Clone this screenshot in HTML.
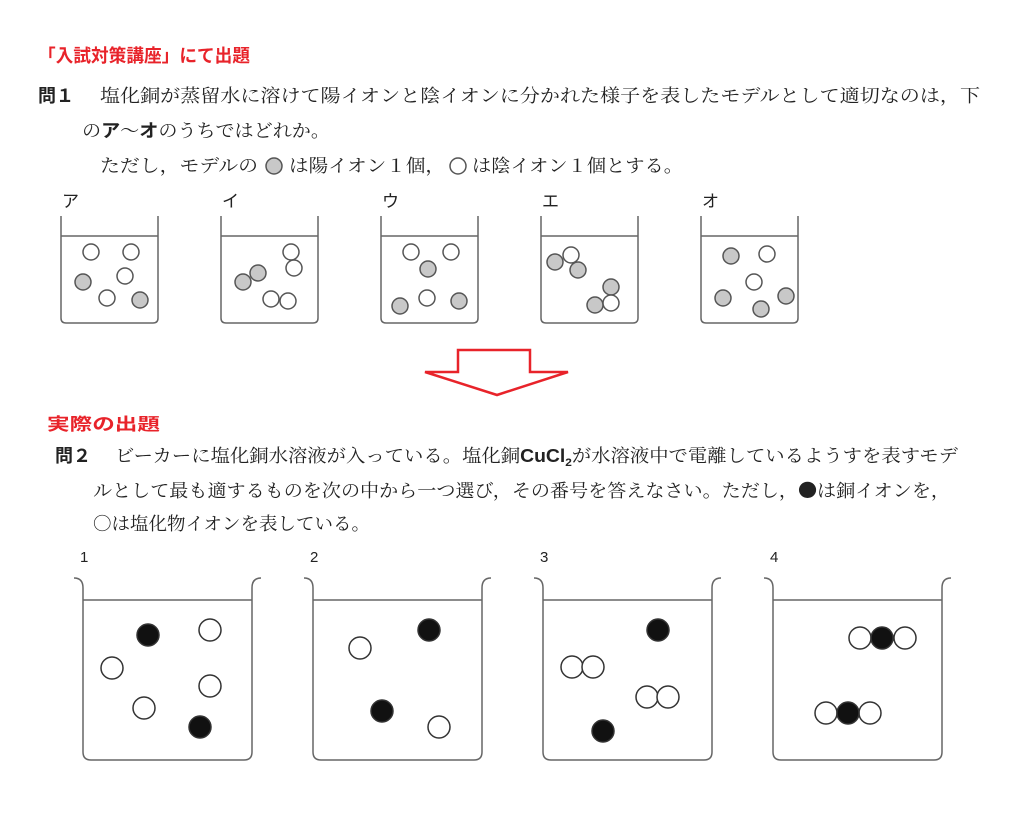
<!DOCTYPE html>
<html><head><meta charset="utf-8"><style>
html,body{margin:0;padding:0;background:#fff;}
svg{display:block;}
.s{font-family:"Liberation Serif","Noto Serif CJK SC",serif;font-size:18px;fill:#222;}
.g{font-family:"Liberation Sans","Noto Sans CJK JP",sans-serif;}
.c{font-family:"Noto Sans CJK JP",sans-serif;}
</style></head><body>
<svg width="1024" height="816" viewBox="0 0 1024 816" xmlns="http://www.w3.org/2000/svg">
<text x="38" y="62" class="g" font-size="18" font-weight="bold" fill="#e8232a" textLength="212" lengthAdjust="spacingAndGlyphs">「入試対策講座」にて出題</text>
<text x="38" y="102" class="g" font-size="18" font-weight="bold" fill="#222">問１</text>
<text x="100" y="102" class="s" textLength="880" lengthAdjust="spacingAndGlyphs">塩化銅が蒸留水に溶けて陽イオンと陰イオンに分かれた様子を表したモデルとして適切なのは，下</text>
<text x="82" y="137" class="s" textLength="248" lengthAdjust="spacingAndGlyphs">の<tspan class="g" font-weight="bold">ア</tspan>〜<tspan class="g" font-weight="bold">オ</tspan>のうちではどれか。</text>
<text x="100" y="172" class="s" textLength="158" lengthAdjust="spacingAndGlyphs">ただし，モデルの</text>
<circle cx="274" cy="166" r="8" fill="#c8c8c8" stroke="#555" stroke-width="1.5"/>
<text x="289" y="172" class="s" textLength="156" lengthAdjust="spacingAndGlyphs">は陽イオン１個，</text>
<circle cx="458" cy="166" r="8" fill="#fff" stroke="#555" stroke-width="1.5"/>
<text x="472" y="172" class="s" textLength="211" lengthAdjust="spacingAndGlyphs">は陰イオン１個とする。</text>

<g class="g" font-size="17" fill="#222">
<text x="62" y="207">ア</text><text x="222" y="207">イ</text><text x="382" y="207">ウ</text><text x="542" y="207">エ</text><text x="702" y="207">オ</text>
</g>
<g fill="none" stroke="#666" stroke-width="1.5">
<path d="M61 216 V318 q0 5 5 5 H153 q5 0 5 -5 V216"/><line x1="61" y1="236" x2="158" y2="236"/>
<path d="M221 216 V318 q0 5 5 5 H313 q5 0 5 -5 V216"/><line x1="221" y1="236" x2="318" y2="236"/>
<path d="M381 216 V318 q0 5 5 5 H473 q5 0 5 -5 V216"/><line x1="381" y1="236" x2="478" y2="236"/>
<path d="M541 216 V318 q0 5 5 5 H633 q5 0 5 -5 V216"/><line x1="541" y1="236" x2="638" y2="236"/>
<path d="M701 216 V318 q0 5 5 5 H793 q5 0 5 -5 V216"/><line x1="701" y1="236" x2="798" y2="236"/>
</g>
<g stroke="#555" stroke-width="1.5">
<g fill="#fff"><circle cx="91" cy="252" r="8"/><circle cx="131" cy="252" r="8"/><circle cx="125" cy="276" r="8"/><circle cx="107" cy="298" r="8"/></g>
<g fill="#c8c8c8"><circle cx="83" cy="282" r="8"/><circle cx="140" cy="300" r="8"/></g>
<g fill="#fff"><circle cx="291" cy="252" r="8"/><circle cx="294" cy="268" r="8"/><circle cx="271" cy="299" r="8"/><circle cx="288" cy="301" r="8"/></g>
<g fill="#c8c8c8"><circle cx="243" cy="282" r="8"/><circle cx="258" cy="273" r="8"/></g>
<g fill="#fff"><circle cx="411" cy="252" r="8"/><circle cx="451" cy="252" r="8"/><circle cx="427" cy="298" r="8"/></g>
<g fill="#c8c8c8"><circle cx="428" cy="269" r="8"/><circle cx="400" cy="306" r="8"/><circle cx="459" cy="301" r="8"/></g>
<circle cx="555" cy="262" r="8" fill="#c8c8c8"/><circle cx="571" cy="255" r="8" fill="#fff"/><circle cx="578" cy="270" r="8" fill="#c8c8c8"/>
<circle cx="611" cy="287" r="8" fill="#c8c8c8"/><circle cx="595" cy="305" r="8" fill="#c8c8c8"/><circle cx="611" cy="303" r="8" fill="#fff"/>
<g fill="#c8c8c8"><circle cx="731" cy="256" r="8"/><circle cx="723" cy="298" r="8"/><circle cx="761" cy="309" r="8"/><circle cx="786" cy="296" r="8"/></g>
<g fill="#fff"><circle cx="767" cy="254" r="8"/><circle cx="754" cy="282" r="8"/></g>
</g>

<polygon points="458,350 530,350 530,372 568,372 497,395 425,372 458,372" fill="#fff" stroke="#e8232a" stroke-width="2.5"/>

<text x="47" y="430" class="g" font-size="17" font-weight="bold" fill="#e8232a" textLength="113" lengthAdjust="spacingAndGlyphs">実際の出題</text>
<text x="55" y="462" class="g" font-size="18" font-weight="bold" fill="#222">問２</text>
<text x="115" y="462" class="s" textLength="843" lengthAdjust="spacingAndGlyphs">ビーカーに塩化銅水溶液が入っている。塩化銅<tspan class="g" font-weight="bold">CuCl<tspan font-size="11" dy="4">2</tspan></tspan><tspan dy="-4">が水溶液中で電離しているようすを表すモデ</tspan></text>
<text x="93" y="497" class="s" textLength="857" lengthAdjust="spacingAndGlyphs">ルとして最も適するものを次の中から一つ選び，その番号を答えなさい。ただし，<tspan class="c">●</tspan>は銅イオンを，</text>
<text x="93" y="530" class="s" textLength="277" lengthAdjust="spacingAndGlyphs"><tspan class="c">○</tspan>は塩化物イオンを表している。</text>

<g class="g" font-size="15" fill="#222">
<text x="80" y="562">1</text><text x="310" y="562">2</text><text x="540" y="562">3</text><text x="770" y="562">4</text>
</g>
<g fill="none" stroke="#666" stroke-width="1.5">
<path d="M74 578 q9 0 9 10 V752 q0 8 8 8 H244 q8 0 8 -8 V588 q0 -10 9 -10"/><line x1="83" y1="600" x2="252" y2="600"/>
<path d="M304 578 q9 0 9 10 V752 q0 8 8 8 H474 q8 0 8 -8 V588 q0 -10 9 -10"/><line x1="313" y1="600" x2="482" y2="600"/>
<path d="M534 578 q9 0 9 10 V752 q0 8 8 8 H704 q8 0 8 -8 V588 q0 -10 9 -10"/><line x1="543" y1="600" x2="712" y2="600"/>
<path d="M764 578 q9 0 9 10 V752 q0 8 8 8 H934 q8 0 8 -8 V588 q0 -10 9 -10"/><line x1="773" y1="600" x2="942" y2="600"/>
</g>
<g stroke="#333" stroke-width="1.5">
<g fill="#111"><circle cx="148" cy="635" r="11"/><circle cx="200" cy="727" r="11"/><circle cx="429" cy="630" r="11"/><circle cx="382" cy="711" r="11"/><circle cx="658" cy="630" r="11"/><circle cx="603" cy="731" r="11"/></g>
<g fill="#fff"><circle cx="112" cy="668" r="11"/><circle cx="210" cy="630" r="11"/><circle cx="210" cy="686" r="11"/><circle cx="144" cy="708" r="11"/>
<circle cx="360" cy="648" r="11"/><circle cx="439" cy="727" r="11"/>
<circle cx="572" cy="667" r="11"/><circle cx="593" cy="667" r="11"/><circle cx="647" cy="697" r="11"/><circle cx="668" cy="697" r="11"/>
<circle cx="860" cy="638" r="11"/><circle cx="905" cy="638" r="11"/><circle cx="826" cy="713" r="11"/><circle cx="870" cy="713" r="11"/></g>
<g fill="#111"><circle cx="882" cy="638" r="11"/><circle cx="848" cy="713" r="11"/></g>
</g>
</svg>
</body></html>
